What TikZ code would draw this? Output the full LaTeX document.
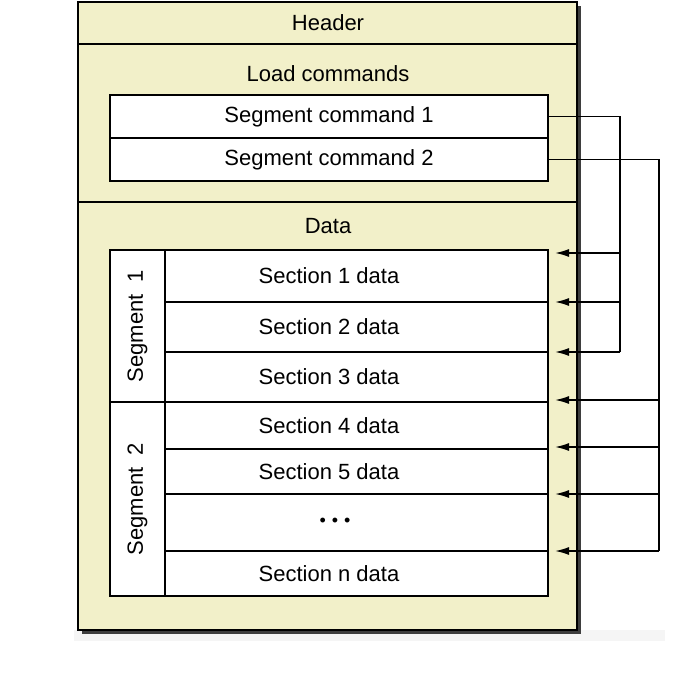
\documentclass[tikz,border=0pt]{standalone}
\usepackage{fontspec}
\setmainfont{Liberation Sans}
\usetikzlibrary{arrows.meta, positioning, calc, shadows}
\definecolor{panelyellow}{RGB}{242,240,201}
\definecolor{shadowgray}{RGB}{62,62,62}

\begin{document}
\begin{tikzpicture}[x=1pt, y=-1pt,
  every node/.style={font=\fontsize{22}{26}\selectfont, inner sep=0pt, outer sep=0pt},
  cell/.style={draw, line width=1.6pt, fill=white, minimum width=438pt},
  segcell/.style={draw, line width=1.6pt, fill=white, minimum width=55pt, anchor=north west},
  link/.style={line width=1.6pt},
  arr/.style={link, -{Latex[length=14pt, width=8pt]}}]
\useasboundingbox (0,0) rectangle (692,684);
\fill[black!4] (74,630) rectangle (665,641);
% outer panel with its shadow
\node[draw, line width=1.6pt, fill=panelyellow, minimum width=499pt, minimum height=628pt,
  anchor=north west, drop shadow={shadow xshift=4pt, shadow yshift=-4pt, fill=shadowgray, opacity=1}]
  (outer) at (78,2) {};
\draw[line width=1.6pt] (78,44) -- (577,44);
\draw[line width=1.6pt] (78,202) -- (577,202);
\node (header) at (328,23) {Header};
\node (load) at (328,74) {Load commands};
\node (data) at (328,226) {Data};
% load commands
\node[cell, minimum height=43pt] (cmd1) at (329,116.5) {Segment command 1};
\node[cell, minimum height=43pt, below=0pt of cmd1] (cmd2) {Segment command 2};
% sections, top to bottom
\node[cell, minimum height=52pt, anchor=north] (sec1) at (329,250) {Section 1 data};
\node[cell, minimum height=50pt, below=0pt of sec1] (sec2) {Section 2 data};
\node[cell, minimum height=50pt, below=0pt of sec2] (sec3) {Section 3 data};
\node[cell, minimum height=47pt, below=0pt of sec3] (sec4) {Section 4 data};
\node[cell, minimum height=45pt, below=0pt of sec4] (sec5) {Section 5 data};
\node[cell, minimum height=57pt, below=0pt of sec5] (secd)
  {\hspace{12pt}\fontsize{18}{20}\selectfont\textbullet\hspace{6pt}\textbullet\hspace{6pt}\textbullet};
\node[cell, minimum height=45pt, below=0pt of secd] (secn) {Section n data};
\node[segcell, minimum height=152pt, label={[rotate=90]center:Segment\ \ 1}] (seg1) at (sec1.north west) {};
\node[segcell, minimum height=194pt, label={[rotate=90]center:Segment\ \ 2}] (seg2) at (sec4.north west) {};
\draw[line width=2.6pt] (seg1.south west) -- (sec3.south east);
% connectors
\coordinate (bus1) at (620,0);
\coordinate (bus2) at (659,0);
\draw[link] (cmd1.east) -| (bus1 |- sec3.north east);
\draw[link] (cmd2.east) -| (bus2 |- secn.north east);
\foreach \s/\d in {sec1/3, sec2/0, sec3/0}
  \draw[arr] ($(bus1 |- \s.north east)+(0,\d)$) -- ($(\s.north east)+(7,\d)$);
\foreach \s/\d in {sec4/-2, sec5/-2, secd/0, secn/0}
  \draw[arr] ($(bus2 |- \s.north east)+(0,\d)$) -- ($(\s.north east)+(7,\d)$);
\end{tikzpicture}
\end{document}
